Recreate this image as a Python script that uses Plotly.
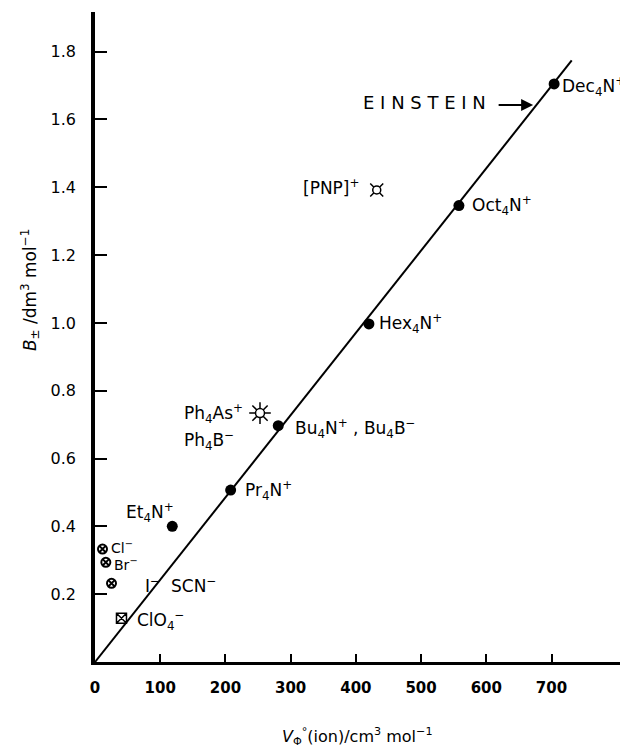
import plotly.graph_objects as go

# ---- data ----
cation_names = ["Dec<sub>4</sub>N<sup>+</sup>", "Oct<sub>4</sub>N<sup>+</sup>", "Hex<sub>4</sub>N<sup>+</sup>",
                "Bu<sub>4</sub>N<sup>+</sup> , Bu<sub>4</sub>B<sup>−</sup>", "Pr<sub>4</sub>N<sup>+</sup>",
                "Et<sub>4</sub>N<sup>+</sup>"]
cation_v = [704, 558, 420, 281, 208, 118.5]
cation_b = [1.705, 1.346, 0.997, 0.697, 0.507, 0.400]

ph_v = [253]
ph_b = [0.734]
pnp_v = [432]
pnp_b = [1.392]

halide_names = ["Cl<sup>−</sup>", "Br<sup>−</sup>", "I<sup>−</sup>"]
halide_v = [11.5, 16.6, 25.3]
halide_b = [0.333, 0.294, 0.232]

clo4_v = [40.6]
clo4_b = [0.129]

einstein_v = [0, 731]
einstein_b = [0, 1.774]

x_ticks = [0, 100, 200, 300, 400, 500, 600, 700]
y_ticks = [0.2, 0.4, 0.6, 0.8, 1.0, 1.2, 1.4, 1.6, 1.8]
y_ticktext = ["0.2", "0.4", "0.6", "0.8", "1.0", "1.2", "1.4", "1.6", "1.8"]

FONT = "DejaVu Sans"

fig = go.Figure()

fig.add_trace(go.Scatter(x=einstein_v, y=einstein_b, mode="lines",
                         line=dict(color="black", width=2), hoverinfo="skip"))
fig.add_trace(go.Scatter(x=cation_v, y=cation_b, mode="markers",
                         marker=dict(symbol="circle", size=11, color="black")))
fig.add_trace(go.Scatter(x=halide_v, y=halide_b, mode="markers",
                         marker=dict(symbol="circle-x-open", size=9, color="black",
                                     line=dict(width=2, color="black"))))
fig.add_trace(go.Scatter(x=clo4_v, y=clo4_b, mode="markers",
                         marker=dict(symbol="square-x-open", size=10, color="black",
                                     line=dict(width=1.5, color="black"))))
# sun symbol for Ph4As+ / Ph4B-
fig.add_trace(go.Scatter(x=ph_v, y=ph_b, mode="markers",
                         marker=dict(symbol="asterisk-open", size=18, color="black",
                                     line=dict(width=1.5, color="black"))))
fig.add_trace(go.Scatter(x=ph_v, y=ph_b, mode="markers",
                         marker=dict(symbol="circle", size=9, color="white",
                                     line=dict(width=1.5, color="black"))))
# currency-like symbol for [PNP]+
fig.add_trace(go.Scatter(x=pnp_v, y=pnp_b, mode="markers",
                         marker=dict(symbol="x-thin-open", size=13, color="black",
                                     line=dict(width=1.5, color="black"))))
fig.add_trace(go.Scatter(x=pnp_v, y=pnp_b, mode="markers",
                         marker=dict(symbol="circle", size=8, color="white",
                                     line=dict(width=1.5, color="black"))))

lab_font = dict(family=FONT, size=17, color="black")
small_font = dict(family=FONT, size=14, color="black")
annotations = []

cation_offsets = [(6, -3), (11, 0), (8, 0), (15, -3), (12, 0), (-48, 14)]
for name, v, b, (dx, dy) in zip(cation_names, cation_v, cation_b, cation_offsets):
    annotations.append(dict(x=v, y=b, text=name, showarrow=False, xanchor="left",
                            xshift=dx, yshift=dy, font=lab_font))

halide_offsets = [(6, 2), (6, -2), (31, -2)]
for i, (name, v, b, (dx, dy)) in enumerate(zip(halide_names, halide_v, halide_b, halide_offsets)):
    annotations.append(dict(x=v, y=b, text=name, showarrow=False, xanchor="left",
                            xshift=dx, yshift=dy, font=small_font if i < 2 else lab_font))
annotations.append(dict(x=halide_v[2], y=halide_b[2], text="SCN<sup>−</sup>", showarrow=False,
                        xanchor="left", xshift=57, yshift=-2, font=lab_font))
annotations.append(dict(x=clo4_v[0], y=clo4_b[0], text="ClO<sub>4</sub><sup>−</sup>", showarrow=False,
                        xanchor="left", xshift=14, yshift=-2, font=lab_font))
annotations.append(dict(x=ph_v[0], y=ph_b[0], text="Ph<sub>4</sub>As<sup>+</sup>", showarrow=False,
                        xanchor="left", xshift=-78, yshift=0, font=lab_font))
annotations.append(dict(x=ph_v[0], y=ph_b[0], text="Ph<sub>4</sub>B<sup>−</sup>", showarrow=False,
                        xanchor="left", xshift=-78, yshift=-27, font=lab_font))
annotations.append(dict(x=pnp_v[0], y=pnp_b[0], text="[PNP]<sup>+</sup>", showarrow=False,
                        xanchor="right", xshift=-16, yshift=3, font=lab_font))

# EINSTEIN arrow pointing at the line just below Dec4N+
annotations.append(dict(x=cation_v[0], y=cation_b[0], text="", showarrow=True,
                        xshift=-21, yshift=-21, ax=-36, ay=0, arrowhead=2,
                        arrowsize=1.2, arrowwidth=2, arrowcolor="black"))
annotations.append(dict(x=cation_v[0], y=cation_b[0], text="E I N S T E I N", showarrow=False,
                        xanchor="right", xshift=-66, yshift=-19,
                        font=dict(family=FONT, size=18, color="black")))

# axis titles
annotations.append(dict(xref="paper", yref="paper", x=0.50, y=-0.115,
                        text="<i>V</i><sub>Φ</sub><sup>°</sup>(ion)/cm<sup>3</sup> mol<sup>−1</sup>",
                        showarrow=False, xanchor="center", yanchor="middle",
                        font=dict(family=FONT, size=16, color="black")))
annotations.append(dict(xref="paper", yref="paper", x=-0.124, y=0.572,
                        text="<i>B</i><sub>±</sub> /dm<sup>3</sup> mol<sup>−1</sup>",
                        showarrow=False, textangle=-90, xanchor="center", yanchor="middle",
                        font=dict(family=FONT, size=17, color="black")))

fig.update_layout(
    width=620, height=748,
    margin=dict(l=95, r=0, t=12, b=86),
    paper_bgcolor="white", plot_bgcolor="white",
    showlegend=False,
    annotations=annotations,
    xaxis=dict(range=[0, 805], showgrid=False, zeroline=False, showline=True,
               linecolor="black", linewidth=2.5, ticks="inside", ticklen=8,
               tickwidth=2, tickcolor="black", tickvals=x_ticks,
               ticklabelstandoff=10,
               tickfont=dict(family=FONT, size=15, color="black", weight="bold")),
    yaxis=dict(range=[0, 1.917], showgrid=False, zeroline=False, showline=True,
               linecolor="black", linewidth=3.5, ticks="inside", ticklen=12,
               tickwidth=2, tickcolor="black", tickvals=y_ticks, ticktext=y_ticktext,
               ticklabelstandoff=12,
               tickfont=dict(family=FONT, size=16, color="black")),
)

fig.write_html("out.html")
